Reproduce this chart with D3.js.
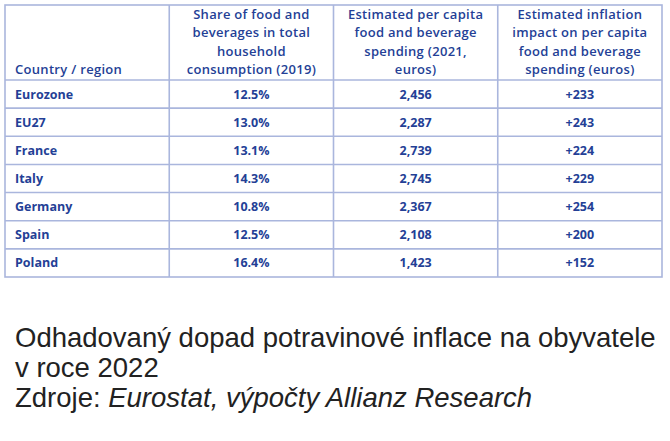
<!DOCTYPE html>
<html>
<head>
<meta charset="utf-8">
<script src="https://cdn.jsdelivr.net/npm/d3@7"></script>
<style>
	body { margin: 0; background: #fff; }
	svg { display: block; }
	.head { font-family: "Open Sans", sans-serif; font-weight: 600; font-size: 13px; letter-spacing: 0.3px; fill: #243f96; }
	.cell { font-family: "Open Sans", sans-serif; font-weight: 700; font-size: 12.5px; fill: #243f96; }
	.grid { stroke: #aab6dd; stroke-width: 1.6; fill: none; }
	.caption { font-family: "Liberation Sans", Arial, sans-serif; font-size: 27.5px; fill: #222; }
</style>
</head>
<body>
<script>
/* Data. */
const countries = ['Eurozone', 'EU27', 'France', 'Italy', 'Germany', 'Spain', 'Poland'];
const shares = ['12.5%', '13.0%', '13.1%', '14.3%', '10.8%', '12.5%', '16.4%'];
const spending = ['2,456', '2,287', '2,739', '2,745', '2,367', '2,108', '1,423'];
const impact = ['+233', '+243', '+224', '+229', '+254', '+200', '+152'];
const headers = [
	['Country / region'],
	['Share of food and', 'beverages in total', 'household', 'consumption (2019)'],
	['Estimated per capita', 'food and beverage', 'spending (2021,', 'euros)'],
	['Estimated inflation', 'impact on per capita', 'food and beverage', 'spending (euros)']
];
const captionLines = ['Odhadovaný dopad potravinové inflace na obyvatele', 'v roce 2022'];
const sourceLabel = 'Zdroje: ';
const sourceText = 'Eurostat,  výpočty Allianz Research';

/**
 * Draws the table and caption.
 */
function main() {
	const svg = d3.select('body').append('svg')
		.attr('width', 670)
		.attr('height', 441);

	const columns = d3.range(headers.length);
	const xScale = d3.scaleBand()
		.domain(columns)
		.range([5, 662]);
	const yScale = d3.scaleBand()
		.domain(countries)
		.range([80, 277]);

	let table = svg.append('g');

	/* Outer frame and lines. */
	table.append('rect')
		.attr('class', 'grid')
		.attr('x', xScale.range()[0])
		.attr('y', 5)
		.attr('width', xScale.range()[1] - xScale.range()[0])
		.attr('height', yScale.range()[1] - 5);

	table.selectAll('.vline')
			.data(columns.slice(1))
		.enter().append('line')
			.attr('class', 'grid')
			.attr('x1', function(c) { return xScale(c); })
			.attr('x2', function(c) { return xScale(c); })
			.attr('y1', 5)
			.attr('y2', yScale.range()[1]);

	table.selectAll('.hline')
			.data(countries)
		.enter().append('line')
			.attr('class', 'grid')
			.attr('x1', xScale.range()[0])
			.attr('x2', xScale.range()[1])
			.attr('y1', function(d) { return yScale(d); })
			.attr('y2', function(d) { return yScale(d); });

	/* Header texts, bottom aligned. */
	const lineHeight = 18.3;
	headers.forEach(function(lines, c) {
		let text = table.append('text')
			.attr('class', 'head')
			.attr('text-anchor', c === 0 ? 'start' : 'middle');
		text.selectAll('tspan')
				.data(lines)
			.enter().append('tspan')
				.attr('x', c === 0 ? xScale(c) + 10 : xScale(c) + xScale.bandwidth() / 2)
				.attr('y', function(_, i) { return 74 - (lines.length - 1 - i) * lineHeight; })
				.text(function(d) { return d; });
	});

	/* Body cells. */
	const body = [countries, shares, spending, impact];
	body.forEach(function(values, c) {
		table.selectAll('.col' + c)
				.data(values)
			.enter().append('text')
				.attr('class', 'cell col' + c)
				.attr('text-anchor', c === 0 ? 'start' : 'middle')
				.attr('x', c === 0 ? xScale(c) + 10 : xScale(c) + xScale.bandwidth() / 2)
				.attr('y', function(_, i) { return yScale(countries[i]) + yScale.bandwidth() / 2; })
				.attr('dy', '0.36em')
				.text(function(d) { return d; });
	});

	/* Caption. */
	svg.selectAll('.caption-line')
			.data(captionLines)
		.enter().append('text')
			.attr('class', 'caption')
			.attr('x', 15)
			.attr('y', function(_, i) { return 347 + i * 30; })
			.text(function(d) { return d; });

	let source = svg.append('text')
		.attr('class', 'caption')
		.attr('x', 15)
		.attr('y', 407);
	source.append('tspan').text(sourceLabel);
	source.append('tspan').attr('font-style', 'italic').text(sourceText);
}

window.onload = function() {
	main();
};
</script>
</body>
</html>
